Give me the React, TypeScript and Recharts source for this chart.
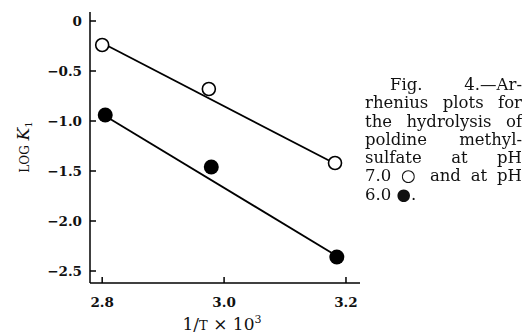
import React from "react";
import { ScatterChart, Scatter, XAxis, YAxis, Label } from "recharts";

const openX = [2.8, 2.975, 3.182];
const openY = [-0.24, -0.68, -1.42];
const filledX = [2.805, 2.979, 3.185];
const filledY = [-0.94, -1.46, -2.36];
const openFitX = [2.8, 3.18];
const openFitY = [-0.22, -1.42];
const filledFitX = [2.805, 3.185];
const filledFitY = [-0.95, -2.35];
const xTicks = [2.8, 3.0, 3.2];
const yTicks = [0, -0.5, -1.0, -1.5, -2.0, -2.5];
const captionLines = [
  "Fig.\u2003\u00a04.\u2014Ar-",
  "rhenius plots for",
  "the hydrolysis of",
  "poldine methyl-",
  "sulfate at pH",
  "7.0 \u25cb and at pH",
  "6.0 \u25cf.",
];

const zip = (xs: number[], ys: number[]) => xs.map((x, i) => ({ x, y: ys[i] }));
const openData = zip(openX, openY);
const filledData = zip(filledX, filledY);
const openFit = zip(openFitX, openFitY);
const filledFit = zip(filledFitX, filledFitY);

const FONT = "'DejaVu Serif', 'Liberation Serif', serif";

const fmtY = (v: number) => (v === 0 ? "0" : "\u2212" + Math.abs(v).toFixed(1));

const YTick = (props: any) => {
  const { x, y, payload } = props;
  return (
    <g>
      <line x1={x + 8} x2={x + 14} y1={y} y2={y} stroke="#000" strokeWidth={1.5} />
      <text x={x} y={y} dy={5} textAnchor="end" fontFamily={FONT} fontSize={13.5} fontWeight="bold" fill="#111">
        {fmtY(payload.value)}
      </text>
    </g>
  );
};

const XTick = (props: any) => {
  const { x, y, payload } = props;
  return (
    <g>
      <line x1={x} x2={x} y1={y - 12} y2={y - 18} stroke="#000" strokeWidth={1.5} />
      <text x={x} y={y} dy={12} textAnchor="middle" fontFamily={FONT} fontSize={13.5} fontWeight="bold" fill="#111">
        {payload.value.toFixed(1)}
      </text>
    </g>
  );
};

const OpenDot = (props: any) => (
  <circle cx={props.cx} cy={props.cy} r={6.5} fill="#fff" stroke="#000" strokeWidth={1.6} />
);
const FilledDot = (props: any) => <circle cx={props.cx} cy={props.cy} r={7.5} fill="#000" />;
const NoDot = () => null;

export default function App() {
  return (
    <div style={{ position: "fixed", left: 0, top: 0, width: 522, height: 335, background: "#fff" }}>
      <ScatterChart width={522} height={335} margin={{ top: 12, right: 162, bottom: 22, left: 30 }}>
        <XAxis
          type="number"
          dataKey="x"
          domain={[2.78, 3.223]}
          ticks={xTicks}
          tick={<XTick />}
          tickSize={0}
          tickMargin={12}
          height={30}
          axisLine={{ stroke: "#000", strokeWidth: 1.5 }}
          allowDataOverflow
        >
          <Label
            content={(p: any) => {
              const vb = p.viewBox;
              return (
                <text x={vb.x + vb.width / 2 - 3} y={330} textAnchor="middle" fontFamily={FONT} fontSize={17} fill="#111">
                  1/<tspan fontSize={13}>T</tspan> × 10<tspan fontSize={11} dy={-7}>3</tspan>
                </text>
              );
            }}
          />
        </XAxis>
        <YAxis
          type="number"
          dataKey="y"
          domain={[-2.62, 0.09]}
          ticks={yTicks}
          tick={<YTick />}
          tickSize={0}
          tickMargin={8}
          width={60}
          axisLine={{ stroke: "#000", strokeWidth: 1.5 }}
          allowDataOverflow
        >
          <Label
            content={() => (
              <text
                x={29}
                y={147}
                transform="rotate(-90 29 147)"
                textAnchor="middle"
                fontFamily={FONT}
                fontSize={15}
                fill="#111"
              >
                <tspan fontSize={12}>LOG</tspan> <tspan fontStyle="italic" fontSize={17}>K</tspan>
                <tspan fontSize={10} dy={3}>1</tspan>
              </text>
            )}
          />
        </YAxis>
        <Scatter data={openFit} line={{ stroke: "#000", strokeWidth: 1.8 }} shape={<NoDot />} isAnimationActive={false} />
        <Scatter data={filledFit} line={{ stroke: "#000", strokeWidth: 1.8 }} shape={<NoDot />} isAnimationActive={false} />
        <Scatter data={openData} shape={<OpenDot />} isAnimationActive={false} />
        <Scatter data={filledData} shape={<FilledDot />} isAnimationActive={false} />
      </ScatterChart>
      <div
        style={{
          position: "absolute",
          left: 365,
          top: 76,
          width: 157,
          fontFamily: FONT,
          fontSize: 16.5,
          lineHeight: "18.3px",
          color: "#111",
        }}
      >
        {captionLines.map((t, i) => (
          <div
            key={i}
            style={{
              textAlign: "justify",
              textAlignLast: i === captionLines.length - 1 ? "left" : "justify",
              paddingLeft: i === 0 ? 25 : 0,
              whiteSpace: "nowrap",
            }}
          >
            {t}
          </div>
        ))}
      </div>
    </div>
  );
}
